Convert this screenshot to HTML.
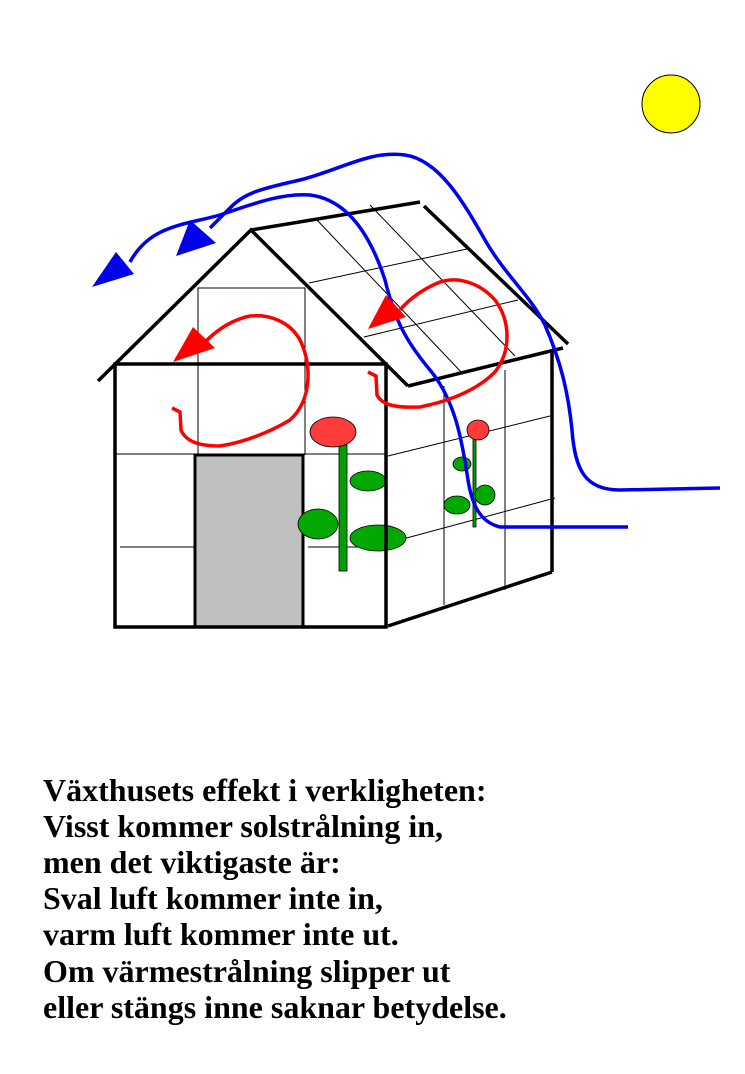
<!DOCTYPE html>
<html><head><meta charset="utf-8"><style>
body{margin:0;background:#fff;width:745px;height:1074px;overflow:hidden}
svg{position:absolute;left:0;top:0}
text{font-family:"Liberation Serif",serif;font-weight:bold;font-size:32px;fill:#000}
</style></head><body>
<svg width="745" height="1074" viewBox="0 0 745 1074">
<circle cx="671" cy="104" r="29" fill="#ffff00" stroke="#000" stroke-width="1"/>
<g stroke="#000" stroke-width="1" fill="none">
<rect x="198" y="288" width="107" height="76"/>
<line x1="198" y1="364" x2="198" y2="455"/>
<line x1="305" y1="364" x2="305" y2="455"/>
<line x1="115" y1="454" x2="386" y2="454"/>
<line x1="120" y1="547" x2="204" y2="547"/>
<line x1="308" y1="547" x2="386" y2="547"/>
<line x1="317" y1="220" x2="463" y2="374"/>
<line x1="370" y1="205" x2="515" y2="356"/>
<line x1="309" y1="283" x2="467" y2="249"/>
<line x1="364" y1="337" x2="518" y2="300"/>
<line x1="444" y1="386" x2="444" y2="605"/>
<line x1="505" y1="370" x2="505" y2="590"/>
<line x1="388" y1="456" x2="550" y2="416"/>
<line x1="388" y1="543" x2="555" y2="498"/>
</g>
<rect x="195" y="455" width="108" height="172" fill="#c0c0c0" stroke="#000" stroke-width="3"/>
<g stroke="#000" stroke-width="0.8">
<rect x="339" y="445" width="8" height="126" fill="#00a000"/>
<ellipse cx="333" cy="432" rx="23" ry="15" fill="#ff3b3b"/>
<ellipse cx="368" cy="481" rx="18" ry="10" fill="#00a800"/>
<ellipse cx="318" cy="524" rx="20" ry="15" fill="#00a800"/>
<ellipse cx="378" cy="538" rx="28" ry="13" fill="#00a800"/>
<rect x="473" y="438" width="3" height="89" fill="#00a000"/>
<ellipse cx="478" cy="430" rx="11" ry="10" fill="#ff3b3b"/>
<ellipse cx="462" cy="464" rx="9" ry="7" fill="#00a800"/>
<ellipse cx="457" cy="505" rx="13" ry="9" fill="#00a800"/>
<ellipse cx="485" cy="495" rx="10" ry="10" fill="#00a800"/>
</g>
<g stroke="#000" stroke-width="3.5" fill="none">
<rect x="115" y="364" width="271" height="263"/>
<polyline points="98,381 251,230 408,386"/>
<line x1="251" y1="230" x2="420" y2="202"/>
<line x1="424" y1="206" x2="568" y2="344"/>
<line x1="408" y1="386" x2="563" y2="348"/>
<line x1="552" y1="350" x2="552" y2="572"/>
<line x1="388" y1="626" x2="552" y2="572"/>
</g>
<g stroke="#0000ee" stroke-width="3.5" fill="none">
<path d="M720,488 L620,490 C585,490 575,470 572,430 C568,390 560,360 545,325 C530,295 505,275 485,240 C465,205 440,160 405,155 C370,150 340,170 300,180 C265,188 245,192 230,208 L210,228"/>
<path d="M628,527 L500,527 C480,522 472,505 468,480 C462,440 455,400 430,370 C405,340 395,320 385,280 C372,240 350,200 310,195 C280,193 250,205 220,215 C185,225 150,225 130,262"/>
</g>
<polygon points="176,256 190,220 216,243" fill="#0000ee"/>
<polygon points="92,287 116,252 134,274" fill="#0000ee"/>
<g stroke="#ff0000" stroke-width="3.5" fill="none">
<path d="M172,408 L180,412 L181,430 C186,442 200,446 220,446 C245,442 270,432 290,420 C312,400 312,365 300,340 C290,322 270,314 250,316 C230,320 215,332 205,342"/>
<path d="M368,372 L376,376 L377,395 C382,405 395,408 420,407 C445,402 475,392 495,372 C512,350 510,320 495,300 C480,283 458,276 440,282 C425,288 410,298 400,310"/>
</g>
<polygon points="173,362 193,327 215,348" fill="#ff0000"/>
<polygon points="368,329 386,295 406,317" fill="#ff0000"/>
<text x="43" y="801">Växthusets effekt i verkligheten:</text>
<text x="43" y="837">Visst kommer solstrålning in,</text>
<text x="43" y="873">men det viktigaste är:</text>
<text x="43" y="909">Sval luft kommer inte in,</text>
<text x="43" y="945">varm luft kommer inte ut.</text>
<text x="43" y="982">Om värmestrålning slipper ut</text>
<text x="43" y="1018">eller stängs inne saknar betydelse.</text>
</svg>
</body></html>
